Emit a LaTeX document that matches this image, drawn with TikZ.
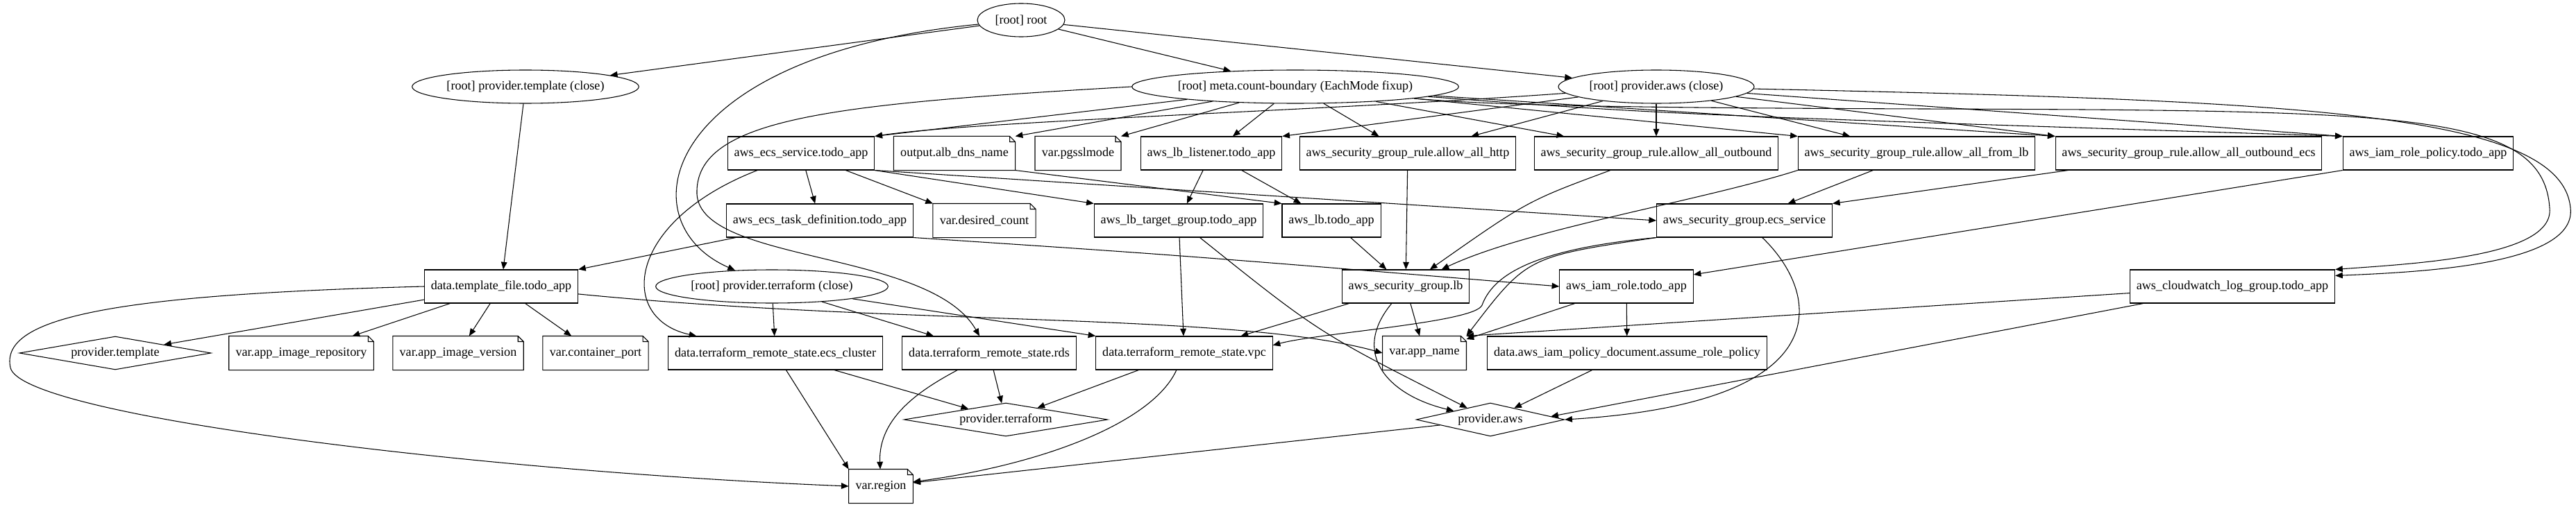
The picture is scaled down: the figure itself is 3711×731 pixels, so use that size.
\documentclass[tikz,border=0pt]{standalone}
\usepackage{fontspec}
\setmainfont{Liberation Serif}
\usetikzlibrary{shapes.geometric,arrows.meta}

\newcommand{\elltext}[1]{\makebox[0pt]{#1}}

\begin{document}
\begin{tikzpicture}[
      x=0.75pt, y=-0.75pt,
      font=\fontsize{13.6}{16}\selectfont,
      >={Triangle[length=8pt,width=6.5pt]},
      line width=0.8pt,
      rootnode/.style={draw, ellipse, inner sep=0pt, minimum height=36pt},
      res/.style={draw, rectangle, inner xsep=7pt, minimum height=36pt},
      varnote/.style={rectangle, inner xsep=7pt, minimum height=36pt},
      prov/.style={draw, diamond, aspect=5, inner sep=0pt, minimum height=36pt}
  ]
    \useasboundingbox (0,0) rectangle (3711,731);

    % root level
    \node[rootnode, minimum width=94.5pt] (root) at (1471,29) {\elltext{[root] root}};
    \node[rootnode, minimum width=245pt] (ptpl_close) at (757,125) {\elltext{[root] provider.template (close)}};
    \node[rootnode, minimum width=353pt] (meta) at (1866,125) {\elltext{[root] meta.count-boundary (EachMode fixup)}};
    \node[rootnode, minimum width=211.5pt] (paws_close) at (2386,125) {\elltext{[root] provider.aws (close)}};

    % first row
    \node[res] (ecs_service) at (1154,221) {aws\_ecs\_service.todo\_app};
    \node[varnote] (alb_dns) at (1375,221) {output.alb\_dns\_name};
    \node[varnote] (pgsslmode) at (1553,221) {var.pgsslmode};
    \node[res] (lb_listener) at (1745,221) {aws\_lb\_listener.todo\_app};
    \node[res] (rule_http) at (2028,221) {aws\_security\_group\_rule.allow\_all\_http};
    \node[res] (rule_outbound) at (2386,221) {aws\_security\_group\_rule.allow\_all\_outbound};
    \node[res] (rule_from_lb) at (2761,221) {aws\_security\_group\_rule.allow\_all\_from\_lb};
    \node[res] (rule_outbound_ecs) at (3153,221) {aws\_security\_group\_rule.allow\_all\_outbound\_ecs};
    \node[res] (iam_policy) at (3498,221) {aws\_iam\_role\_policy.todo\_app};

    % second row
    \node[res] (task_def) at (1181,318) {aws\_ecs\_task\_definition.todo\_app};
    \node[varnote] (desired_count) at (1418,318) {var.desired\_count};
    \node[res] (lb_tg) at (1698,318) {aws\_lb\_target\_group.todo\_app};
    \node[res] (lb) at (1918,318) {aws\_lb.todo\_app};
    \node[res] (sg_ecs) at (2513,318) {aws\_security\_group.ecs\_service};

    % third row
    \node[res] (tpl_file) at (722,413) {data.template\_file.todo\_app};
    \node[rootnode, minimum width=251pt] (ptf_close) at (1112,413) {\elltext{[root] provider.terraform (close)}};
    \node[res] (sg_lb) at (2025,413) {aws\_security\_group.lb};
    \node[res] (iam_role) at (2343,413) {aws\_iam\_role.todo\_app};
    \node[res] (cw_log) at (3216,413) {aws\_cloudwatch\_log\_group.todo\_app};

    % fourth row
    \node[prov, minimum width=207pt] (provider_template) at (166,509) {provider.template};
    \node[varnote] (app_image_repository) at (434,509) {var.app\_image\_repository};
    \node[varnote] (app_image_version) at (660,509) {var.app\_image\_version};
    \node[varnote] (container_port) at (858,509) {var.container\_port};
    \node[res] (rs_ecs_cluster) at (1117,509) {data.terraform\_remote\_state.ecs\_cluster};
    \node[res] (rs_rds) at (1425,509) {data.terraform\_remote\_state.rds};
    \node[res] (rs_vpc) at (1706,509) {data.terraform\_remote\_state.vpc};
    \node[varnote] (app_name) at (2052,509) {var.app\_name};
    \node[res] (assume_role_policy) at (2344,509) {data.aws\_iam\_policy\_document.assume\_role\_policy};

    % providers and region
    \node[prov, minimum width=220pt] (provider_terraform) at (1449,605) {provider.terraform};
    \node[prov, minimum width=160pt] (provider_aws) at (2147,605) {provider.aws};
    \node[varnote] (region) at (1269,701) {var.region};

    % folded corner of the variables and outputs
    \foreach \n in {alb_dns,pgsslmode,desired_count,app_image_repository,app_image_version,container_port,app_name,region} {
      \draw (\n.south west) -- (\n.north west) -- ([xshift=-6pt]\n.north east) -- ([yshift=-6pt]\n.north east) -- (\n.south east) -- cycle
            ([xshift=-6pt]\n.north east) |- ([yshift=-6pt]\n.north east);
    }

    % root
    \draw[->] (root) -- (ptpl_close);
    \draw[->] (root) -- (meta);
    \draw[->] (root) -- (paws_close);
    \draw[->] (root) .. controls (950,80) and (900,320) .. (ptf_close);
    \draw[->] (ptpl_close) -- (tpl_file);

    % meta.count-boundary
    \draw[->] (meta) -- (ecs_service.north east);
    \draw[->] (meta) -- (alb_dns.north east);
    \draw[->] (meta) -- (pgsslmode.north east);
    \draw[->] (meta) -- (lb_listener);
    \draw[->] (meta) -- (rule_http);
    \draw[->] (meta) -- (rule_outbound);
    \draw[->] (meta) -- (rule_from_lb.north west);
    \draw[->] (meta) -- (rule_outbound_ecs.north west);
    \draw[->] (meta) .. controls (2400,165) .. (iam_policy.north west);
    \draw[->] (meta) .. controls (2200,158) and (2700,156) .. (3000,158) .. controls (3500,162) and (3665,175) .. (3673,300) .. controls (3680,370) and (3480,380) .. (cw_log.north east);
    \draw[->] (meta.west) .. controls (1200,150) and (1000,170) .. (1004,280) .. controls (1010,380) and (1340,360) .. (rs_rds);

    % provider.aws (close)
    \draw[->] (paws_close) .. controls (1900,160) and (1400,175) .. (ecs_service.north east);
    \draw[->] (paws_close) -- (lb_listener.north east);
    \draw[->] (paws_close) -- (rule_http);
    \draw[->] (paws_close) -- (rule_outbound);
    \draw[->] (paws_close) -- (rule_from_lb);
    \draw[->] (paws_close) -- (rule_outbound_ecs.north west);
    \draw[->] (paws_close) -- (iam_policy.north west);
    \draw[->] (paws_close) .. controls (3300,145) and (3690,160) .. (3703,300) .. controls (3712,380) and (3500,392) .. (cw_log.6);

    % first row
    \draw[->] (ecs_service) -- (task_def);
    \draw[->] (ecs_service) -- (desired_count.north west);
    \draw[->] (ecs_service.south east) -- (lb_tg.north west);
    \draw[->] (ecs_service.south east) -- (sg_ecs.west);
    \draw[->] (ecs_service) .. controls (900,320) and (890,460) .. (rs_ecs_cluster);
    \draw[->] (alb_dns.south east) -- (lb.north west);
    \draw[->] (lb_listener) -- (lb_tg);
    \draw[->] (lb_listener) -- (lb);
    \draw[->] (rule_http) -- (sg_lb);
    \draw[->] (rule_outbound) .. controls (2200,290) .. (sg_lb);
    \draw[->] (rule_from_lb) -- (sg_ecs);
    \draw[->] (rule_from_lb.south west) .. controls (2450,290) and (2200,330) .. (sg_lb);
    \draw[->] (rule_outbound_ecs) -- (sg_ecs.north east);
    \draw[->] (iam_policy.south west) -- (iam_role.10);

    % second row
    \draw[->] (task_def) -- (tpl_file.north east);
    \draw[->] (task_def.south east) .. controls (1700,368) .. (iam_role.west);
    \draw[->] (lb_tg) -- (rs_vpc);
    \draw[->] (lb_tg) .. controls (1900,480) .. (provider_aws);
    \draw[->] (lb) -- (sg_lb);
    \draw[->] (sg_ecs.south west) .. controls (2200,360) and (2150,400) .. (2135,440) .. controls (2125,465) and (1900,480) .. (rs_vpc.5);
    \draw[->] (sg_ecs.south west) .. controls (2200,370) .. (app_name.north east);
    \draw[->] (sg_ecs) .. controls (2620,420) and (2660,580) .. (provider_aws.east);

    % third row
    \draw[->] (sg_lb) -- (rs_vpc);
    \draw[->] (sg_lb) -- (app_name);
    \draw[->] (sg_lb) .. controls (1945,510) and (2000,570) .. (provider_aws);
    \draw[->] (iam_role) -- (app_name);
    \draw[->] (iam_role) -- (assume_role_policy);
    \draw[->] (cw_log) -- (app_name.north east);
    \draw[->] (cw_log) -- (provider_aws.3);
    \draw[->] (tpl_file) -- (provider_template);
    \draw[->] (tpl_file) -- (app_image_repository);
    \draw[->] (tpl_file) -- (app_image_version);
    \draw[->] (tpl_file) -- (container_port);
    \draw[->] (tpl_file) .. controls (1300,470) and (1780,450) .. (app_name.west);
    \draw[->] (tpl_file.west) .. controls (150,425) and (0,460) .. (15,530) .. controls (30,600) and (700,680) .. (region.west);
    \draw[->] (ptf_close) -- (rs_ecs_cluster);
    \draw[->] (ptf_close) -- (rs_rds);
    \draw[->] (ptf_close) -- (rs_vpc.north west);

    % fourth row
    \draw[->] (assume_role_policy) -- (provider_aws);
    \draw[->] (rs_ecs_cluster) -- (region.north west);
    \draw[->] (rs_ecs_cluster) -- (provider_terraform);
    \draw[->] (rs_rds) .. controls (1330,560) and (1265,600) .. (region);
    \draw[->] (rs_rds) -- (provider_terraform);
    \draw[->] (rs_vpc) -- (provider_terraform);
    \draw[->] (rs_vpc) .. controls (1660,610) and (1500,670) .. (region);
    \draw[->] (provider_aws) -- (region);
  \end{tikzpicture}
\end{document}
